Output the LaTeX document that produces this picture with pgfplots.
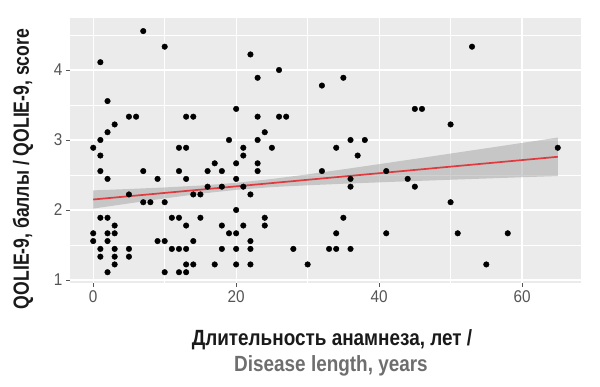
\documentclass[border=0pt]{standalone}
\usepackage{fontspec}
\setmainfont{Liberation Sans}
\newfontfamily\condfont{Liberation Sans}[FakeStretch=0.8]
\newfontfamily\xlabfont{Liberation Sans}[FakeStretch=0.86]
\newfontfamily\tickfont{Liberation Sans}[FakeStretch=0.9]
\usepackage{pgfplots}
\pgfplotsset{compat=1.18}
\definecolor{panel}{HTML}{EBEBEB}
\definecolor{ticklab}{HTML}{555555}
\definecolor{fitred}{HTML}{E03A3E}
\definecolor{xlabgray}{HTML}{6E6E6E}
\definecolor{ribbon}{HTML}{999999}

\pgfplotstableread{
x y
7 4.556
10 4.333
1 4.111
2 3.556
5 3.333
6 3.333
3 3.222
2 3.111
1 3.0
0 2.889
12 2.889
13 2.889
13 3.333
14 3.333
19 3.0
20 3.444
22 4.222
26 4.0
23 3.889
32 3.778
35 3.889
23 3.333
26 3.333
27 3.333
24 3.111
23 3.0
21 2.889
25 2.889
34 2.889
36 3.0
38 3.0
53 4.333
45 3.444
46 3.444
50 3.222
65 2.889
1 2.778
1 2.556
2 2.444
7 2.556
9 2.444
12 2.556
13 2.444
16 2.556
17 2.667
18 2.556
20 2.667
20 2.444
16 2.333
18 2.333
5 2.222
14 2.222
15 2.222
7 2.111
8 2.111
10 2.111
20 2.0
1 1.889
2 1.889
3 1.778
11 1.889
12 1.889
15 1.889
13 1.778
18 1.778
0 1.667
2 1.667
3 1.667
19 1.667
20 1.667
0 1.556
2 1.556
9 1.556
10 1.556
14 1.556
1 1.444
3 1.444
5 1.444
11 1.444
12 1.444
13 1.444
18 1.444
20 1.444
1 1.333
3 1.333
5 1.333
3 1.222
13 1.222
14 1.222
17 1.222
20 1.222
2 1.111
10 1.111
12 1.111
13 1.111
21 2.778
23 2.667
23 2.556
37 2.778
32 2.556
36 2.444
36 2.333
41 2.556
44 2.444
21 2.333
22 2.222
24 1.889
24 1.778
21 1.778
35 1.889
22 1.556
34 1.667
41 1.667
22 1.444
28 1.444
33 1.444
34 1.444
36 1.444
22 1.222
30 1.222
45 2.333
50 2.111
51 1.667
58 1.667
55 1.222
}\pointdata

\begin{document}
\begin{tikzpicture}
\begin{axis}[
  at={(0,0)}, anchor=south west,
  scale only axis, width=511pt, height=265pt,
  xmin=-3.25, xmax=68.25, ymin=0.957, ymax=4.743,
  xtick={0,20,40,60}, ytick={1,2,3,4},
  minor xtick={10,30,50}, minor ytick={1.5,2.5,3.5,4.5},
  grid=both,
  major grid style={white, line width=1.1pt},
  minor grid style={white, line width=0.55pt},
  axis line style={draw=none},
  axis background/.style={fill=panel},
  tick align=outside, tick pos=left,
  major tick length=4pt, minor tick length=0pt,
  tick style={ticklab, line width=0.8pt},
  tick label style={font=\tickfont\fontsize{17}{17}\selectfont, text=ticklab},
  /pgf/number format/assume math mode=true,
]
\addplot[only marks, mark=*, mark size=2.8pt, mark options={fill=black, draw=black}] table[x=x, y=y] {\pointdata};
\addplot[fill=ribbon, fill opacity=0.45, draw=none] coordinates {
(0,2.280) (5,2.300) (10,2.322) (15,2.349) (20,2.388) (25,2.443) (30,2.509) (35,2.581) (40,2.655) (45,2.730) (50,2.806) (55,2.882) (60,2.958) (65,3.035)
(65,2.485) (60,2.468) (55,2.450) (50,2.432) (45,2.414) (40,2.395) (35,2.375) (30,2.353) (25,2.327) (20,2.288) (15,2.233) (10,2.166) (5,2.094) (0,2.020)
} -- cycle;
\addplot[fitred, line width=1.7pt] coordinates {(0,2.150) (65,2.760)};
\end{axis}
\node[rotate=90, font=\condfont\bfseries\fontsize{22}{22}\selectfont, text={rgb,255:red,26;green,26;blue,26}] at (-47pt,114pt) {QOLIE-9, баллы / QOLIE-9, score};
\node[font=\xlabfont\bfseries\fontsize{22}{22}\selectfont, text={rgb,255:red,26;green,26;blue,26}] at (262pt,-57pt) {Длительность анамнеза, лет /};
\node[font=\xlabfont\bfseries\fontsize{22}{22}\selectfont, text=xlabgray] at (261pt,-83pt) {Disease length, years};
\pgfresetboundingbox
\path[use as bounding box] (-70pt,-104pt) rectangle (530pt,283pt);
\end{tikzpicture}
\end{document}
